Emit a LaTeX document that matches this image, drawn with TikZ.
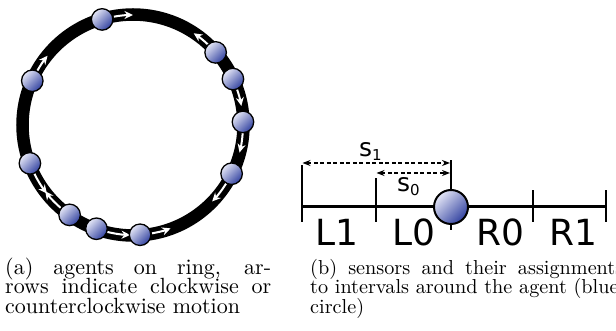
\documentclass[tikz,border=0pt]{standalone}
\usepackage{fontspec}
\newfontfamily\labfont{DejaVu Sans}
\newfontfamily\capfont[Extension=.otf]{lmroman10-regular}
\usetikzlibrary{arrows.meta}
\definecolor{agentlight}{RGB}{228,230,246}
\definecolor{agentdark}{RGB}{50,66,160}
\begin{document}
\begin{tikzpicture}[x=1pt,y=1pt,
  agent/.style={circle, draw=black, line width=1.3pt, minimum size=21.5pt, inner sep=0pt,
    top color=agentlight, bottom color=agentdark, shading angle=45},
  bigagent/.style={agent, minimum size=34pt, line width=2pt},
  warrow/.style={white, line width=2pt, -{Stealth[length=8.5pt,width=8pt]}},
  ringline/.style={black, line width=12.5pt},
  axisline/.style={black, line width=3pt},
  tickline/.style={black, line width=2.4pt},
  dimline/.style={black, line width=1.2pt, dash pattern=on 4pt off 2.5pt,
    {Stealth[length=8pt,width=6pt]}-{Stealth[length=8pt,width=6pt]}},
  seglabel/.style={anchor=base, inner sep=0pt, font=\labfont\fontsize{36}{36}\selectfont},
  slabel/.style={anchor=base west, inner sep=0pt, font=\labfont\fontsize{25}{25}\selectfont},
  caption/.style={anchor=base west, inner sep=0pt}
]
\useasboundingbox (0,0) rectangle (616,331);

% ---------- (a) ring ----------
\begin{scope}[shift={(133,206)}]
  \coordinate (ringc) at (0,0);
  \draw[ringline] (ringc) circle[radius=110.5];
  % arrows
  \draw[warrow] (100:110) arc[start angle=100, end angle=90, radius=110];
  \draw[warrow] (47:110) arc[start angle=47, end angle=56.5, radius=110];
  \draw[warrow] (19:110) arc[start angle=19, end angle=10, radius=110];
  \draw[warrow] (-4:110) arc[start angle=-4, end angle=-14.5, radius=110];
  \draw[warrow] (-32:110) arc[start angle=-32, end angle=-44, radius=110];
  \draw[warrow] (-80:110) arc[start angle=-80, end angle=-70, radius=110];
  \draw[warrow] (-103.5:110) arc[start angle=-103.5, end angle=-91.5, radius=110];
  \draw[warrow] (-131:110) arc[start angle=-131, end angle=-143, radius=110];
  \draw[warrow] (-154:110) arc[start angle=-154, end angle=-141.5, radius=110];
  \draw[warrow] (150.5:110) arc[start angle=150.5, end angle=141, radius=110];
  % agents
  \node[agent] (a1) at (106.3:110) {};
  \node[agent] (a2) at (41.3:110) {};
  \node[agent] (a3) at (24.7:110) {};
  \node[agent] (a4) at (1.6:110) {};
  \node[agent] (a5) at (-26.3:110) {};
  \node[agent] (a6) at (-86.3:110) {};
  \node[agent] (a7) at (-109.4:110) {};
  \node[agent] (a8) at (-125.2:110) {};
  \node[agent] (a9) at (-159.6:110) {};
  \node[agent] (a10) at (156.3:110) {};
\end{scope}

% ---------- (b) sensors ----------
\coordinate (lineL) at (302,124);
\coordinate (lineR) at (606,124);
\coordinate (t1b) at (302,109); \coordinate (t1t) at (302,166);
\coordinate (t2b) at (376,109); \coordinate (t2t) at (376,153);
\coordinate (t3b) at (533,109); \coordinate (t3t) at (533,141);
\coordinate (t4b) at (606,109); \coordinate (t4t) at (606,141);
\coordinate (vb) at (451,101); \coordinate (vt) at (451,171);
\draw[axisline] (lineL) -- (lineR);
\draw[tickline] (t1b) -- (t1t);
\draw[tickline] (t2b) -- (t2t);
\draw[tickline] (t3b) -- (t3t);
\draw[tickline] (t4b) -- (t4t);
\draw[tickline] (vb) -- (vt);
\node[bigagent] (me) at (451,124) {};

\coordinate (s1l) at (302.5,168); \coordinate (s1r) at (450,168);
\coordinate (s0l) at (376.5,158); \coordinate (s0r) at (450,158);
\draw[dimline] (s1l) -- (s1r);
\draw[dimline] (s0l) -- (s0r);
\node[slabel] (s1) at (359,174) {s\raisebox{-4pt}{\fontsize{15}{15}\selectfont 1}};
\node[slabel] (s0) at (397,139) {s\raisebox{-4pt}{\fontsize{15}{15}\selectfont 0}};

\node[seglabel] (L1) at (337,85) {L1};
\node[seglabel] (L0) at (414,85) {L0};
\node[seglabel] (R0) at (500,85) {R0};
\node[seglabel] (R1) at (573,85) {R1};

% ---------- captions ----------
\node[caption, font=\capfont\fontsize{22}{19.5}\selectfont] (capa) at (5,56.5)
  {\parbox[t]{266pt}{\lineskiplimit=-100pt
  (a) agents on ring, ar-\linebreak rows indicate clockwise or\linebreak counterclockwise motion}};
\node[caption, font=\capfont\fontsize{20.2}{19.5}\selectfont] (capb) at (310,56.5)
  {\parbox[t]{313pt}{\lineskiplimit=-100pt\hbadness=10000\hfuzz=100pt
  (b) sensors and their assignments\linebreak to intervals around the agent (blue\newline circle)}};
\end{tikzpicture}
\end{document}
